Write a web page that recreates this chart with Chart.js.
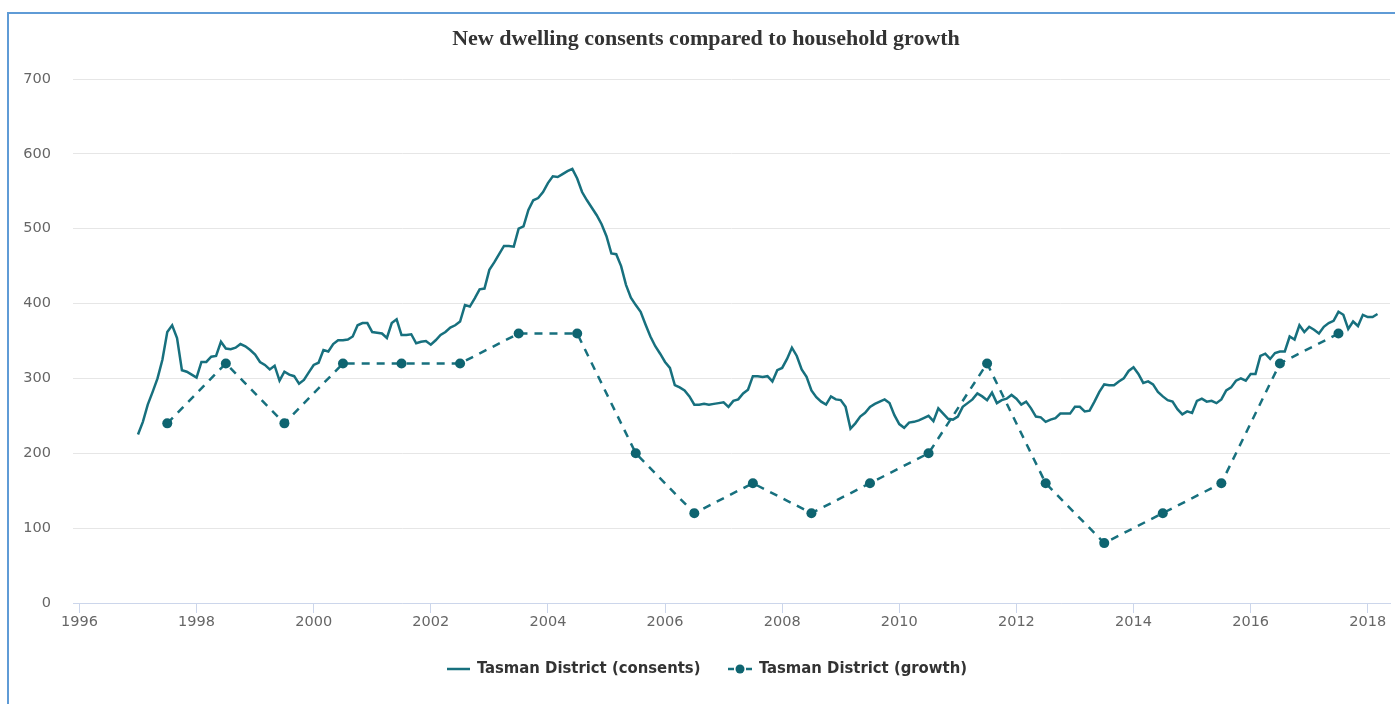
<!DOCTYPE html>
<html><head><meta charset="utf-8">
<script src="https://cdn.jsdelivr.net/npm/chart.js@4"></script>
<style>
html,body{margin:0;padding:0;background:#fff;overflow:hidden;}
#wrap{position:absolute;left:0;top:0;width:1395px;height:704px;}
#frame{position:absolute;left:7px;top:12px;width:1400px;height:720px;border-left:2px solid #5f9bd6;border-top:2px solid #5f9bd6;}
canvas{position:absolute;left:0;top:0;}
</style></head><body>
<div id="wrap"><div id="frame"></div><canvas id="c" width="1395" height="704"></canvas></div>
<script>
const chartTitle = 'New dwelling consents compared to household growth';
const seriesNames = ['Tasman District (consents)', 'Tasman District (growth)'];
const xTickYears = [1996,1998,2000,2002,2004,2006,2008,2010,2012,2014,2016,2018];
const yTickValues = [0,100,200,300,400,500,600,700];

// consents: monthly values starting January 1997
const consentsStartYear = 1997;
const consentsValues = [
  225,242,265,282,300,325,362,371,354,311,309,305, // 1997
  301,322,322,329,330,349,340,339,341,346,343,338, // 1998
  332,322,318,312,317,297,309,305,303,293,298,308, // 1999
  318,321,338,336,346,351,351,352,356,371,374,374, // 2000
  362,361,360,354,374,379,358,358,359,347,349,350, // 2001
  345,351,358,362,368,371,376,398,396,407,419,420, // 2002
  445,455,466,477,477,476,500,503,525,538,541,549, // 2003
  561,570,569,573,577,580,567,549,538,528,518,506, // 2004
  490,467,466,450,425,408,398,389,372,356,343,333, // 2005
  322,314,291,288,284,276,265,265,266,265,266,267, // 2006
  268,262,270,272,280,285,303,303,302,303,296,311, // 2007
  314,326,341,330,312,302,284,275,269,265,276,272, // 2008
  271,262,233,240,249,254,262,266,269,272,267,251, // 2009
  239,234,241,242,244,247,250,243,260,253,246,245, // 2010
  249,262,267,272,280,276,271,281,267,271,273,278, // 2011
  273,265,269,260,249,248,242,245,247,253,253,253, // 2012
  262,262,256,257,269,282,292,291,291,296,300,310, // 2013
  315,306,294,296,292,282,276,271,269,259,252,256, // 2014
  254,270,273,269,270,267,272,284,288,297,300,297, // 2015
  306,306,330,333,326,334,336,336,356,352,371,362, // 2016
  369,365,360,369,374,377,389,385,366,376,370,385, // 2017
  382,382,386                                      // 2018
];

// growth: annual values plotted at mid-year
const growthYears = [1997.5,1998.5,1999.5,2000.5,2001.5,2002.5,2003.5,2004.5,2005.5,2006.5,2007.5,2008.5,2009.5,2010.5,2011.5,2012.5,2013.5,2014.5,2015.5,2016.5,2017.5];
const growthValues = [240,320,240,320,320,320,360,360,200,120,160,120,160,200,320,160,80,120,160,320,360];

const lineColor = '#17707e';
const markerColor = '#0e6470';
const tickFont = "'DejaVu Sans','Liberation Sans',sans-serif";
const legendFont = "'Liberation Sans Narrow','DejaVu Sans Condensed','DejaVu Sans',sans-serif";

const consentsData = consentsValues.map((v,i)=>({x: consentsStartYear + i/12, y: v}));
const growthData = growthValues.map((v,i)=>({x: growthYears[i], y: v}));

const overlay = {
  id: 'overlay',
  afterDraw(chart){
    const ctx = chart.ctx;
    ctx.save();
    // title
    ctx.fillStyle = '#333333';
    ctx.font = "bold 22px 'Liberation Serif','DejaVu Serif',serif";
    ctx.textAlign = 'center';
    ctx.textBaseline = 'middle';
    ctx.fillText(chartTitle, 706, 39);
    // legend
    const ly = 669;
    ctx.font = "bold 16.5px " + legendFont;
    ctx.textAlign = 'left';
    ctx.fillStyle = '#333333';
    ctx.strokeStyle = lineColor;
    ctx.lineWidth = 2.5;
    ctx.beginPath(); ctx.moveTo(447, ly); ctx.lineTo(470, ly); ctx.stroke();
    ctx.fillText(seriesNames[0], 477, ly);
    ctx.setLineDash([6,3]);
    ctx.beginPath(); ctx.moveTo(728, ly); ctx.lineTo(752, ly); ctx.stroke();
    ctx.setLineDash([]);
    ctx.fillStyle = markerColor;
    ctx.beginPath(); ctx.arc(740, ly, 4.5, 0, Math.PI*2); ctx.fill();
    ctx.fillStyle = '#333333';
    ctx.fillText(seriesNames[1], 759, ly);
    ctx.restore();
  }
};

new Chart(document.getElementById('c'), {
  type: 'line',
  data: {
    datasets: [
      {
        label: seriesNames[0],
        data: consentsData,
        borderColor: lineColor,
        backgroundColor: lineColor,
        borderWidth: 2.5,
        pointRadius: 0,
        tension: 0,
        order: 2
      },
      {
        label: seriesNames[1],
        data: growthData,
        borderColor: lineColor,
        backgroundColor: markerColor,
        borderWidth: 2.5,
        borderDash: [8,7],
        pointRadius: 5,
        pointBackgroundColor: markerColor,
        pointBorderColor: markerColor,
        pointBorderWidth: 0,
        tension: 0,
        order: 1
      }
    ]
  },
  options: {
    responsive: false,
    animation: false,
    devicePixelRatio: 1,
    layout: { padding: { left: 0, right: 5, top: 79, bottom: 70 } },
    plugins: { legend: { display: false }, title: { display: false }, tooltip: { enabled: false } },
    scales: {
      x: {
        type: 'linear',
        min: 1995.89,
        max: 2018.38,
        afterBuildTicks(scale){ scale.ticks = xTickYears.map(v=>({value:v})); },
        afterFit(scale){ scale.height = 31; },
        grid: { drawOnChartArea: false, drawTicks: true, tickLength: 10, color: '#ccd6eb', lineWidth: 1 },
        border: { display: true, color: '#ccd6eb', width: 1 },
        ticks: { color: '#666666', font: { family: tickFont, size: 14.5 }, padding: 1, maxRotation: 0, autoSkip: false,
                 callback: v => String(v) }
      },
      y: {
        min: 0,
        max: 700,
        afterBuildTicks(scale){ scale.ticks = yTickValues.map(v=>({value:v})); },
        afterFit(scale){ scale.width = 73; },
        grid: { color: '#e6e6e6', lineWidth: 1, drawTicks: false },
        border: { display: false },
        ticks: { color: '#666666', font: { family: tickFont, size: 14.5 }, padding: 22, callback: v => String(v) }
      }
    }
  },
  plugins: [overlay]
});
</script>
</body></html>
